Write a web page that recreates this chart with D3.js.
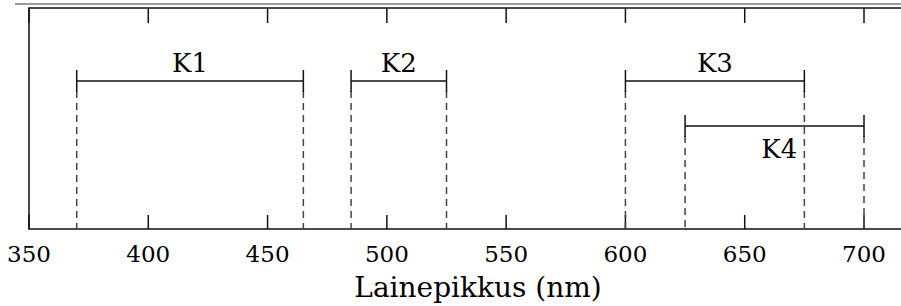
<!DOCTYPE html>
<meta charset="utf-8">
<style>
body { margin: 0; background: #fff; }
</style>
<svg width="901" height="306"></svg>
<script src="https://cdn.jsdelivr.net/npm/d3@7"></script>
<script>

// ranges (nm)
var names  = ["K1", "K2", "K3", "K4"];
var starts = [370, 485, 600, 625];
var ends   = [465, 525, 675, 700];
var rows   = [0, 0, 0, 1];
var tickVals = [350, 400, 450, 500, 550, 600, 650, 700];
var xTitle = "Lainepikkus (nm)";

var FONT = "'DejaVu Serif', serif";

var svg = d3.select("svg"),
    x0 = 29, yTop = 8, yBot = 229;

var x = d3.scaleLinear().domain([350, 700]).range([x0, 864]);
var rowY = d3.scaleOrdinal().domain([0, 1]).range([81, 126]);

// outer frame line
svg.append("line")
    .attr("x1", 15).attr("x2", 901).attr("y1", 4).attr("y2", 4)
    .attr("stroke", "#777").attr("stroke-width", 1.5);

// box: left, top and bottom lines
svg.append("path")
    .attr("d", "M901," + yTop + "H" + x0 + "V" + yBot + "H901")
    .attr("fill", "none").attr("stroke", "#111").attr("stroke-width", 1.5);

// ticks bottom and top
var ticks = svg.append("g");
ticks.selectAll(".tb").data(tickVals).enter().append("line")
    .attr("x1", x).attr("x2", x)
    .attr("y1", yBot).attr("y2", yBot - 14)
    .attr("stroke", "#111").attr("stroke-width", 1.5);
ticks.selectAll(".tt").data(tickVals).enter().append("line")
    .attr("x1", x).attr("x2", x)
    .attr("y1", yTop).attr("y2", yTop + 15)
    .attr("stroke", "#111").attr("stroke-width", 1.5);

svg.selectAll(".tl").data(tickVals).enter().append("text")
    .attr("x", x).attr("y", 262)
    .attr("text-anchor", "middle")
    .style("font-family", FONT).style("font-size", "23px")
    .text(function(d) { return d; });

svg.append("text")
    .attr("x", 478).attr("y", 297)
    .attr("text-anchor", "middle")
    .style("font-family", FONT).style("font-size", "28px")
    .text(xTitle);

var data = names.map(function(n, i) {
  return {name: n, a: starts[i], b: ends[i], row: rows[i]};
});

var g = svg.append("g");

// dashed drops, end caps, bars and labels
data.forEach(function(d) {
  [d.a, d.b].forEach(function(v) {
    g.append("line")
        .attr("x1", x(v)).attr("x2", x(v))
        .attr("y1", rowY(d.row) + 10).attr("y2", yBot)
        .attr("stroke", "#444").attr("stroke-width", 1.5)
        .attr("stroke-dasharray", "7,5");
    g.append("line")
        .attr("x1", x(v)).attr("x2", x(v))
        .attr("y1", rowY(d.row) - 11).attr("y2", rowY(d.row) + 11)
        .attr("stroke", "#111").attr("stroke-width", 1.5);
  });
  g.append("line")
      .attr("x1", x(d.a)).attr("x2", x(d.b))
      .attr("y1", rowY(d.row)).attr("y2", rowY(d.row))
      .attr("stroke", "#111").attr("stroke-width", 1.5);
  g.append("text")
      .attr("x", d.row ? x(664.5) : x((d.a + d.b) / 2))
      .attr("y", d.row ? rowY(d.row) + 32 : rowY(d.row) - 9)
      .attr("text-anchor", "middle")
      .style("font-family", FONT).style("font-size", "26px")
      .text(d.name);
});

</script>
